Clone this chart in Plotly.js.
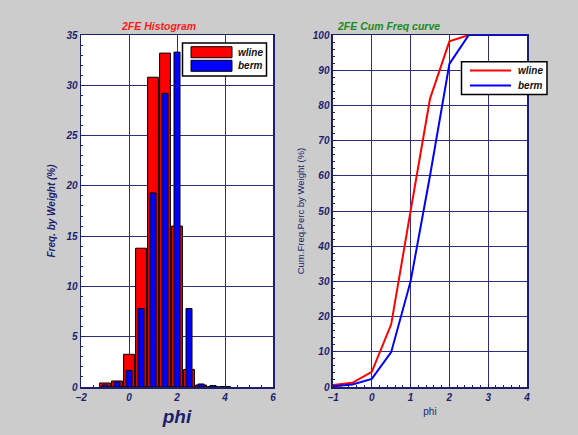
<!DOCTYPE html>
<html>
<head>
<meta charset="utf-8">
<script src="https://cdn.plot.ly/plotly-3.0.1.min.js"></script>
<style>html,body{margin:0;padding:0;background:#cccccc;} #chart{width:578px;height:435px;}</style>
</head>
<body>
<div id="chart"></div>
<script>
// Histogram (phi class centres) and weight percentages
var phiBins = [-1, -0.5, 0, 0.5, 1, 1.5, 2, 2.5, 3, 3.5, 4];
var wlineFreq = [0.4, 0.6, 3.25, 13.8, 30.8, 33.2, 16.0, 1.75, 0.2, 0.05, 0.05];
var bermFreq  = [0.2, 0.5, 1.65, 7.8, 19.3, 29.2, 33.3, 7.8, 0.3, 0.15, 0.05];
// Cumulative frequency curve
var phiCum = [-1, -0.5, 0, 0.5, 1, 1.5, 2, 2.5, 3, 3.5, 4];
var wlineCum = [0.6, 1.2, 4.3, 17.8, 50.0, 81.9, 98.2, 100, 100, 100, 100];
var bermCum  = [0.2, 0.7, 2.3, 9.9, 30.0, 60.0, 91.8, 100, 100, 100, 100];
var seriesNames = ['wline', 'berm'];
var seriesColors = ['#ff0000', '#0000ff'];

var navy = '#1e1e6e';
var gridC = '#2e2e7c';
var FAM = 'Liberation Sans, Arial, sans-serif';
var tickFont = {family: FAM, size: 10, color: navy, weight: 'bold', style: 'italic'};
var legFont = {family: FAM, size: 10, color: '#111111', weight: 'bold', style: 'italic'};

var traces = [
  {type: 'bar', x: phiBins, y: wlineFreq, name: seriesNames[0], width: 0.45,
   marker: {color: seriesColors[0], line: {color: '#000000', width: 1}}, xaxis: 'x', yaxis: 'y'},
  {type: 'bar', x: phiBins, y: bermFreq, name: seriesNames[1], width: 0.25,
   marker: {color: seriesColors[1], line: {color: '#000000', width: 1}}, xaxis: 'x', yaxis: 'y'},
  {type: 'scatter', mode: 'lines', x: phiCum, y: wlineCum, name: seriesNames[0],
   line: {color: seriesColors[0], width: 2}, xaxis: 'x2', yaxis: 'y2'},
  {type: 'scatter', mode: 'lines', x: phiCum, y: bermCum, name: seriesNames[1],
   line: {color: seriesColors[1], width: 2}, xaxis: 'x2', yaxis: 'y2'}
];

function ax(extra) {
  var base = {
    showline: true, linecolor: navy, linewidth: 1.5, mirror: true,
    showgrid: true, gridcolor: gridC, gridwidth: 1, zeroline: false,
    ticks: 'inside', ticklen: 4, tickcolor: navy, tickfont: tickFont,
    fixedrange: true
  };
  for (var k in extra) base[k] = extra[k];
  return base;
}

// pixel -> paper helpers (plot area spans x 81..527, y 35..387)
function px(x) { return (x - 81) / 446; }
function py(y) { return (387 - y) / 352; }

var shapes = [];
var annotations = [];

// Legend for histogram (patch style)
shapes.push({type: 'rect', xref: 'paper', yref: 'paper', layer: 'above',
  x0: px(182.5), x1: px(266.5), y0: py(76), y1: py(43),
  fillcolor: '#ffffff', line: {color: '#000000', width: 1.5}});
[52.2, 65.8].forEach(function (cy, i) {
  shapes.push({type: 'rect', xref: 'paper', yref: 'paper', layer: 'above',
    x0: px(191), x1: px(232), y0: py(cy + 5.5), y1: py(cy - 5.5),
    fillcolor: seriesColors[i], line: {color: '#000000', width: 1}});
  annotations.push({text: seriesNames[i], xref: 'paper', yref: 'paper', x: px(236), y: py(cy),
    xanchor: 'left', yanchor: 'middle', showarrow: false, font: legFont});
});

// Legend for cumulative curve (line style)
shapes.push({type: 'rect', xref: 'paper', yref: 'paper', layer: 'above',
  x0: px(461.5), x1: px(547), y0: py(94.5), y1: py(61.8),
  fillcolor: '#ffffff', line: {color: '#000000', width: 1.5}});
[70.5, 85.5].forEach(function (cy, i) {
  shapes.push({type: 'line', xref: 'paper', yref: 'paper', layer: 'above',
    x0: px(470), x1: px(511), y0: py(cy), y1: py(cy),
    line: {color: seriesColors[i], width: 2}});
  annotations.push({text: seriesNames[i], xref: 'paper', yref: 'paper', x: px(516), y: py(cy),
    xanchor: 'left', yanchor: 'middle', showarrow: false, font: legFont});
});

// Subplot titles
annotations.push({text: '2FE Histogram', xref: 'paper', yref: 'paper', x: px(158), y: py(26), showarrow: false,
  xanchor: 'center', yanchor: 'middle',
  font: {family: FAM, size: 10.5, color: '#ff1a1a', weight: 'bold', style: 'italic'}});
annotations.push({text: '2FE Cum Freq curve', xref: 'paper', yref: 'paper', x: px(388), y: py(26), showarrow: false,
  xanchor: 'center', yanchor: 'middle',
  font: {family: FAM, size: 10.5, color: '#1a8a1a', weight: 'bold', style: 'italic'}});

var layout = {
  width: 578, height: 435,
  paper_bgcolor: '#cccccc', plot_bgcolor: '#ffffff',
  margin: {l: 81, r: 51, t: 35, b: 48},
  barmode: 'overlay',
  bargap: 0,
  showlegend: false,
  xaxis: ax({domain: [0, 0.4305], range: [-2, 6], tickvals: [-2, 0, 2, 4, 6], anchor: 'y',
    minor: {dtick: 0.5, ticks: 'inside', ticklen: 2, tickcolor: navy, showgrid: false},
    title: {text: 'phi', standoff: 8, font: {family: FAM, size: 19, color: navy, weight: 'bold', style: 'italic'}}}),
  yaxis: ax({domain: [0, 1], range: [0, 35], dtick: 5, anchor: 'x',
    minor: {dtick: 1, ticks: 'inside', ticklen: 2, tickcolor: navy, showgrid: false},
    title: {text: 'Freq. by Weight (%)', standoff: 8, font: {family: FAM, size: 10, color: navy, weight: 'bold', style: 'italic'}}}),
  xaxis2: ax({domain: [0.565, 1], range: [-1, 4], dtick: 1, anchor: 'y2',
    minor: {dtick: 0.2, ticks: 'inside', ticklen: 2, tickcolor: navy, showgrid: false},
    title: {text: 'phi', standoff: 6, font: {family: FAM, size: 10, color: navy}}}),
  yaxis2: ax({domain: [0, 1], range: [0, 100], dtick: 10, anchor: 'x2',
    minor: {dtick: 2, ticks: 'inside', ticklen: 2, tickcolor: navy, showgrid: false},
    title: {text: 'Cum.Freq.Perc by Weight (%)', standoff: 6, font: {family: FAM, size: 9.5, color: navy}}}),
  shapes: shapes,
  annotations: annotations
};

Plotly.newPlot('chart', traces, layout, {displayModeBar: false, staticPlot: true});
</script>
</body>
</html>
